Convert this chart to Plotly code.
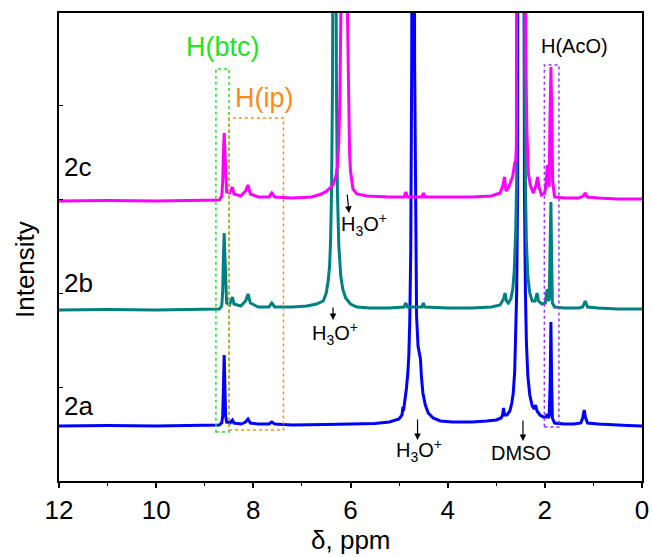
import plotly.graph_objects as go

# ---- data: (ppm, intensity) points ----
ppm_2a = [12.00, 11.00, 10.00, 9.00, 8.70, 8.65, 8.63, 8.615, 8.60, 8.585, 8.57, 8.55, 8.48, 8.45, 8.43, 8.40,
          8.25, 8.16, 8.11, 8.06, 7.90, 7.68, 7.62, 7.56, 7.20, 6.50, 6.00, 5.50, 5.20, 5.00, 4.94, 4.92,
          4.91, 4.88, 4.85, 4.82, 4.80, 4.78, 4.76, 4.74, 4.72, 4.71, 4.70, 4.68, 4.66, 4.64, 4.61, 4.58,
          4.56, 4.54, 4.51, 4.46, 4.40, 4.30, 4.15, 3.90, 3.50, 3.20, 3.00, 2.90, 2.87, 2.85, 2.83, 2.78,
          2.72, 2.68, 2.65, 2.62, 2.60, 2.58, 2.56, 2.54, 2.52, 2.49, 2.46, 2.44, 2.42, 2.40, 2.38, 2.35,
          2.31, 2.26, 2.22, 2.19, 2.16, 2.10, 2.03, 1.97, 1.95, 1.93, 1.91, 1.89, 1.875, 1.86, 1.845, 1.80,
          1.60, 1.40, 1.26, 1.22, 1.19, 1.16, 1.12, 0.90, 0.60, 0.30, 0.00]
int_2a = [55, 55.5, 55, 55.5, 56, 58, 65, 95, 126, 95, 65, 59, 58, 60, 61, 58,
          57, 59, 62, 58, 57, 57, 59, 57, 56, 56.5, 57, 57.5, 59, 62, 66, 74,
          70, 80, 92, 108, 125, 160, 230, 420, 900, 1200, 900, 420, 230, 165, 135, 126,
          122, 104, 88, 76, 68, 63, 60, 59, 59, 60, 61, 63, 66, 73, 66, 66,
          70, 78, 88, 110, 140, 188, 290, 560, 1500, 6000, 1500, 560, 290, 190, 140, 105,
          86, 75, 72, 76, 70, 66, 64, 64, 67, 63, 65, 100, 159, 100, 63, 58,
          57, 57, 58, 63, 71, 63, 58, 57, 56, 55.5, 55]

ppm_2b = [12.00, 11.00, 10.00, 9.00, 8.70, 8.65, 8.63, 8.615, 8.60, 8.585, 8.57, 8.55, 8.49, 8.46, 8.43, 8.40,
          8.26, 8.16, 8.11, 8.06, 7.90, 7.68, 7.62, 7.56, 7.20, 6.90, 6.70, 6.56, 6.50, 6.46, 6.43, 6.41,
          6.39, 6.37, 6.35, 6.33, 6.31, 6.29, 6.27, 6.24, 6.20, 6.16, 6.10, 6.00, 5.87, 5.60, 5.20, 4.90,
          4.86, 4.83, 4.53, 4.50, 4.47, 4.00, 3.50, 3.10, 2.92, 2.85, 2.82, 2.79, 2.75, 2.70, 2.66, 2.63,
          2.60, 2.58, 2.56, 2.54, 2.52, 2.49, 2.46, 2.44, 2.42, 2.40, 2.38, 2.35, 2.31, 2.26, 2.20, 2.16,
          2.13, 2.06, 1.99, 1.95, 1.93, 1.91, 1.89, 1.875, 1.86, 1.845, 1.80, 1.60, 1.30, 1.22, 1.17, 1.12,
          0.90, 0.50, 0.00]
int_2b = [171, 171.5, 171, 171.5, 172, 175, 190, 225, 248, 225, 190, 178, 176, 180, 184, 177,
          175, 180, 187, 178, 174, 174, 178, 174, 174, 175, 177, 180, 188, 200, 215, 240,
          290, 400, 700, 1000, 700, 400, 290, 235, 205, 192, 183, 177, 174, 173, 173, 174,
          178, 174, 174, 178, 174, 173, 173, 174, 176, 182, 188, 180, 178, 182, 192, 210,
          250, 300, 420, 700, 1500, 6000, 1500, 700, 420, 300, 240, 205, 188, 180, 180, 188,
          180, 177, 178, 192, 180, 182, 230, 279, 225, 178, 174, 173, 173, 174, 180, 174,
          173, 172, 172]

ppm_2c = [12.00, 11.00, 10.00, 9.00, 8.70, 8.65, 8.63, 8.615, 8.60, 8.585, 8.57, 8.55, 8.49, 8.46, 8.43, 8.40,
          8.26, 8.16, 8.11, 8.06, 7.90, 7.68, 7.62, 7.56, 7.20, 6.80, 6.60, 6.49, 6.42, 6.36, 6.30, 6.27,
          6.24, 6.22, 6.20, 6.17, 6.13, 6.09, 6.06, 6.04, 6.02, 6.00, 5.97, 5.95, 5.87, 5.66, 5.20, 4.90,
          4.86, 4.83, 4.53, 4.50, 4.47, 4.00, 3.50, 3.10, 2.92, 2.86, 2.83, 2.80, 2.75, 2.72, 2.66, 2.62,
          2.60, 2.585, 2.575, 2.565, 2.54, 2.49, 2.44, 2.41, 2.40, 2.39, 2.37, 2.34, 2.30, 2.24, 2.18, 2.15,
          2.12, 2.07, 2.00, 1.97, 1.95, 1.93, 1.91, 1.895, 1.875, 1.855, 1.84, 1.80, 1.60, 1.30, 1.21, 1.17,
          1.13, 0.90, 0.50, 0.00]
int_2c = [280, 280.5, 280, 280.5, 281, 285, 300, 330, 348, 330, 300, 289, 288, 291, 294, 287,
          285, 290, 296, 287, 284, 284, 288, 284, 283, 284, 287, 290, 293, 296, 305, 315,
          340, 380, 460, 700, 1000, 700, 460, 380, 330, 310, 298, 292, 287, 285, 284, 284,
          289, 284, 284, 288, 284, 284, 284, 285, 288, 296, 304, 290, 293, 297, 305, 318,
          320, 335, 420, 800, 3000, 6000, 3000, 800, 600, 420, 351, 308, 296, 288, 296, 304,
          294, 286, 288, 300, 316, 300, 294, 360, 414, 360, 300, 284, 283, 283, 285, 288,
          284, 283, 282, 282]

labels = ["2a", "2b", "2c"]
colors = ["#0000ff", "#008080", "#ff00ff"]
x_ticks = [12, 10, 8, 6, 4, 2, 0]

FONT = "Arial, Liberation Sans, sans-serif"

fig = go.Figure()
for xs, ys, c, name in [(ppm_2a, int_2a, colors[0], labels[0]),
                        (ppm_2b, int_2b, colors[1], labels[1]),
                        (ppm_2c, int_2c, colors[2], labels[2])]:
    fig.add_trace(go.Scatter(x=xs, y=ys, mode="lines", name=name,
                             line=dict(color=c, width=3), showlegend=False))

# dotted boxes
boxes = [
    (8.77, 8.50, 49, 412, "#22e322"),
    (8.50, 7.38, 51, 363, "#ff8a1c"),
    (2.01, 1.71, 54, 416, "#9b30ff"),
]
for x0, x1, y0, y1, c in boxes:
    fig.add_shape(type="rect", xref="x", yref="y", x0=x0, x1=x1, y0=y0, y1=y1,
                  line=dict(color=c, width=1.5, dash="dot"), layer="above")

ann = []
# sample labels
for t, yv in [("2c", 314), ("2b", 198), ("2a", 75)]:
    ann.append(dict(x=11.93, y=yv, xref="x", yref="y", text=t, showarrow=False,
                    xanchor="left", yanchor="middle", font=dict(size=26, color="black", family=FONT)))
# region labels
ann.append(dict(x=8.63, y=434, xref="x", yref="y", text="H(btc)", showarrow=False,
                font=dict(size=27, color="#22e322", family=FONT)))
ann.append(dict(x=7.77, y=383, xref="x", yref="y", text="H(ip)", showarrow=False,
                font=dict(size=27, color="#ff8a1c", family=FONT)))
ann.append(dict(x=1.38, y=435, xref="x", yref="y", text="H(AcO)", showarrow=False,
                font=dict(size=20, color="black", family=FONT)))
# arrows
for hx, hy, axp, ayp in [(6.03, 268, -2, -20), (6.36, 161, 0, -14), (4.62, 41, 0, -22), (2.45, 40, 0, -22)]:
    ann.append(dict(x=hx, y=hy, xref="x", yref="y", ax=axp, ay=ayp, text="", showarrow=True,
                    arrowhead=2, arrowsize=1.1, arrowwidth=1.2, arrowcolor="black"))
# arrow labels
h3o = "H<sub>3</sub>O<sup>+</sup>"
for tx, ty, t in [(5.72, 257, h3o), (6.32, 148, h3o), (4.59, 31, h3o), (2.49, 28, "DMSO")]:
    ann.append(dict(x=tx, y=ty, xref="x", yref="y", text=t, showarrow=False,
                    font=dict(size=20, color="black", family=FONT)))
# axis titles
ann.append(dict(x=6, y=0, xref="x", yref="paper", yshift=-59, text="δ, ppm", showarrow=False,
                yanchor="middle", font=dict(size=26, color="black", family=FONT)))
ann.append(dict(x=0, y=211, xref="paper", yref="y", xshift=-34, text="Intensity", showarrow=False,
                textangle=-90, xanchor="center", yanchor="middle",
                font=dict(size=26, color="black", family=FONT)))

fig.update_layout(
    width=652, height=557,
    margin=dict(l=59, r=10, t=13, b=76, autoexpand=False),
    paper_bgcolor="white", plot_bgcolor="white",
    annotations=ann,
    font=dict(family=FONT, color="black"),
)
fig.update_xaxes(range=[12, 0], tickvals=x_ticks, ticktext=[str(v) for v in x_ticks],
                 ticks="outside", ticklen=5, tickwidth=1.5, tickcolor="black",
                 minor=dict(dtick=1, ticks="outside", ticklen=3, tickwidth=1.2, tickcolor="black"),
                 showline=True, linecolor="black", linewidth=2, mirror=True, automargin=False,
                 showgrid=False, zeroline=False, tickfont=dict(size=26, family=FONT, color="black"))
fig.update_yaxes(range=[0, 468], tick0=0, dtick=94, showticklabels=False,
                 ticks="inside", ticklen=4, tickwidth=1.2, tickcolor="black",
                 showline=True, linecolor="black", linewidth=2, mirror=True, automargin=False,
                 showgrid=False, zeroline=False)

fig.write_html("out.html", config={"displayModeBar": False},
               post_script="document.body.style.margin='0px';document.body.style.overflow='hidden';")
